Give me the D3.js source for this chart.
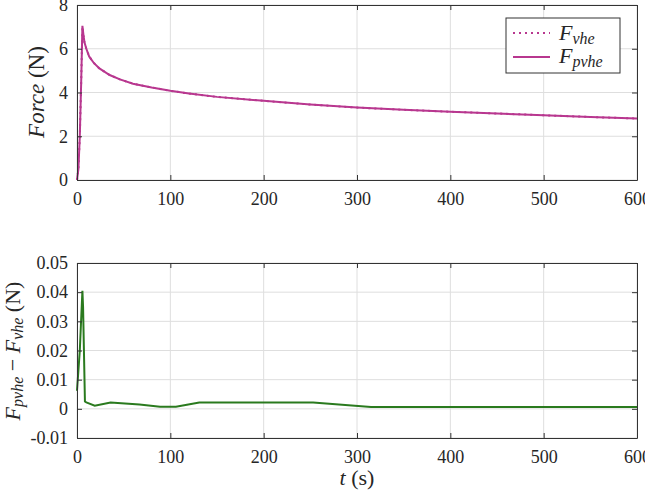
<!DOCTYPE html>
<html lang="en">
<head>
  <meta charset="UTF-8">
  <title>Force</title>
  <script src="https://d3js.org/d3.v7.min.js"></script>
  <style>
    body { margin: 0; background: #fff; }
  </style>
</head>
<body>
  <script>
    // time (s) and force (N)
    var tForce = [0, 1.5, 3, 4.5, 5.8, 7, 8, 10, 13, 18, 24, 35, 46, 60, 80, 100, 120, 150, 200, 250, 300, 350, 400, 450, 500, 550, 600];
    var fPvhe  = [0, 0.5, 2, 4.5, 7.05, 6.6, 6.3, 6.0, 5.65, 5.35, 5.1, 4.8, 4.6, 4.4, 4.23, 4.08, 3.95, 3.8, 3.62, 3.45, 3.31, 3.21, 3.12, 3.04, 2.96, 2.88, 2.81];
    var fVhe   = [0, 0.49, 1.98, 4.47, 7.01, 6.59, 6.3, 6.0, 5.65, 5.35, 5.1, 4.8, 4.6, 4.4, 4.23, 4.08, 3.95, 3.8, 3.62, 3.45, 3.31, 3.21, 3.12, 3.04, 2.96, 2.88, 2.81];

    // difference F_pvhe - F_vhe
    var tDiff = [0, 3, 5.8, 6.5, 8.5, 10, 19, 36, 67, 89, 106, 131, 253, 315, 600];
    var dDiff = [0.0062, 0.02, 0.0405, 0.035, 0.0025, 0.0022, 0.0011, 0.0022, 0.0015, 0.0007, 0.0007, 0.0022, 0.0022, 0.0006, 0.0006];

    var xTicks = [0, 100, 200, 300, 400, 500, 600];
    var yTicksTop = [0, 2, 4, 6, 8];
    var yTicksBot = [-0.01, 0, 0.01, 0.02, 0.03, 0.04, 0.05];

    var w = 645, h = 496;
    var left = 77, right = 637;
    var magenta = "#b8378f", green = "#2a7a1e";
    var serif = "Liberation Serif";

    var svg = d3.select("body").append("svg")
      .attr("width", w).attr("height", h)
      .style("font-family", serif);

    var x = d3.scaleLinear().domain([0, 600]).range([left, right]);
    var yTop = d3.scaleLinear().domain([0, 8]).range([180, 5]);
    var yBot = d3.scaleLinear().domain([-0.01, 0.05]).range([438, 263]);

    function grid(y, yTicks) {
      var g = svg.append("g");
      var y0 = y.range()[0], y1 = y.range()[1];
      g.selectAll(".gx").data(xTicks).enter().append("line")
        .attr("x1", d => x(d)).attr("x2", d => x(d))
        .attr("y1", y0).attr("y2", y1)
        .attr("stroke", "#dedede").attr("stroke-width", 1);
      g.selectAll(".gy").data(yTicks).enter().append("line")
        .attr("x1", left).attr("x2", right)
        .attr("y1", d => y(d)).attr("y2", d => y(d))
        .attr("stroke", "#dedede").attr("stroke-width", 1);
    }

    function frame(y, yTicks, fmt) {
      var g = svg.append("g");
      var y0 = y.range()[0], y1 = y.range()[1];
      g.append("g").attr("transform", "translate(0," + y0 + ")")
        .call(d3.axisBottom(x).tickValues(xTicks).tickSizeInner(-5).tickSizeOuter(0).tickPadding(12));
      g.append("g").attr("transform", "translate(0," + y1 + ")")
        .call(d3.axisTop(x).tickValues(xTicks).tickSizeInner(-5).tickSizeOuter(0).tickFormat(""));
      g.append("g").attr("transform", "translate(" + left + ",0)")
        .call(d3.axisLeft(y).tickValues(yTicks).tickFormat(fmt).tickSizeInner(-5).tickSizeOuter(0).tickPadding(9));
      g.append("g").attr("transform", "translate(" + right + ",0)")
        .call(d3.axisRight(y).tickValues(yTicks).tickSizeInner(-5).tickSizeOuter(0).tickFormat(""));
      g.selectAll("g").attr("font-family", null).attr("font-size", 18);
      g.selectAll("path.domain").attr("stroke", "#333");
      g.selectAll(".tick line").attr("stroke", "#333");
      g.selectAll(".tick text").attr("fill", "#262626").style("font-family", serif);
    }

    // top panel
    grid(yTop, yTicksTop);
    var lineTop = d3.line().x((d, i) => x(tForce[i])).y(d => yTop(d));
    svg.append("path").datum(fVhe).attr("d", lineTop)
      .attr("fill", "none").attr("stroke", magenta).attr("stroke-width", 2)
      .attr("stroke-dasharray", "2,4");
    svg.append("path").datum(fPvhe).attr("d", lineTop)
      .attr("fill", "none").attr("stroke", magenta).attr("stroke-width", 2);
    frame(yTop, yTicksTop, d3.format("d"));

    // bottom panel
    grid(yBot, yTicksBot);
    var lineBot = d3.line().x((d, i) => x(tDiff[i])).y(d => yBot(d));
    svg.append("path").datum(dDiff).attr("d", lineBot)
      .attr("fill", "none").attr("stroke", green).attr("stroke-width", 2);
    frame(yBot, yTicksBot, d => d === 0 ? "0" : d3.format(".2f")(d).replace("\u2212", "-"));

    // legend
    var lg = svg.append("g");
    lg.append("rect").attr("x", 506).attr("y", 18).attr("width", 114).attr("height", 55)
      .attr("fill", "#fff").attr("stroke", "#333").attr("stroke-width", 1);
    lg.append("line").attr("x1", 513).attr("x2", 550).attr("y1", 33).attr("y2", 33)
      .attr("stroke", magenta).attr("stroke-width", 2).attr("stroke-dasharray", "2,4");
    lg.append("line").attr("x1", 513).attr("x2", 550).attr("y1", 57).attr("y2", 57)
      .attr("stroke", magenta).attr("stroke-width", 2);
    var labels = [["F", "vhe", 40], ["F", "pvhe", 63]];
    labels.forEach(function(l) {
      var t = lg.append("text").attr("x", 559).attr("y", l[2])
        .attr("font-size", 22).attr("font-style", "italic").attr("fill", "#262626");
      t.append("tspan").text(l[0]);
      t.append("tspan").attr("font-size", 16).attr("dy", 4).text(l[1]);
    });

    // axis titles
    var yl1 = svg.append("text").attr("transform", "translate(44,92) rotate(-90)")
      .attr("text-anchor", "middle").attr("font-size", 23).attr("fill", "#262626");
    yl1.append("tspan").attr("font-style", "italic").text("Force");
    yl1.append("tspan").text(" (N)");

    var yl2 = svg.append("text").attr("transform", "translate(20,351) rotate(-90)")
      .attr("text-anchor", "middle").attr("font-size", 22).attr("fill", "#262626");
    yl2.append("tspan").attr("font-style", "italic").text("F");
    yl2.append("tspan").attr("font-style", "italic").attr("font-size", 16).attr("dy", 3).text("pvhe");
    yl2.append("tspan").attr("dy", -3).text(" \u2212 ");
    yl2.append("tspan").attr("font-style", "italic").text("F");
    yl2.append("tspan").attr("font-style", "italic").attr("font-size", 16).attr("dy", 3).text("vhe");
    yl2.append("tspan").attr("dy", -3).text(" (N)");

    var xl = svg.append("text").attr("x", 357).attr("y", 485)
      .attr("text-anchor", "middle").attr("font-size", 22).attr("fill", "#262626");
    xl.append("tspan").attr("font-style", "italic").text("t");
    xl.append("tspan").text(" (s)");
  </script>
</body>
</html>
